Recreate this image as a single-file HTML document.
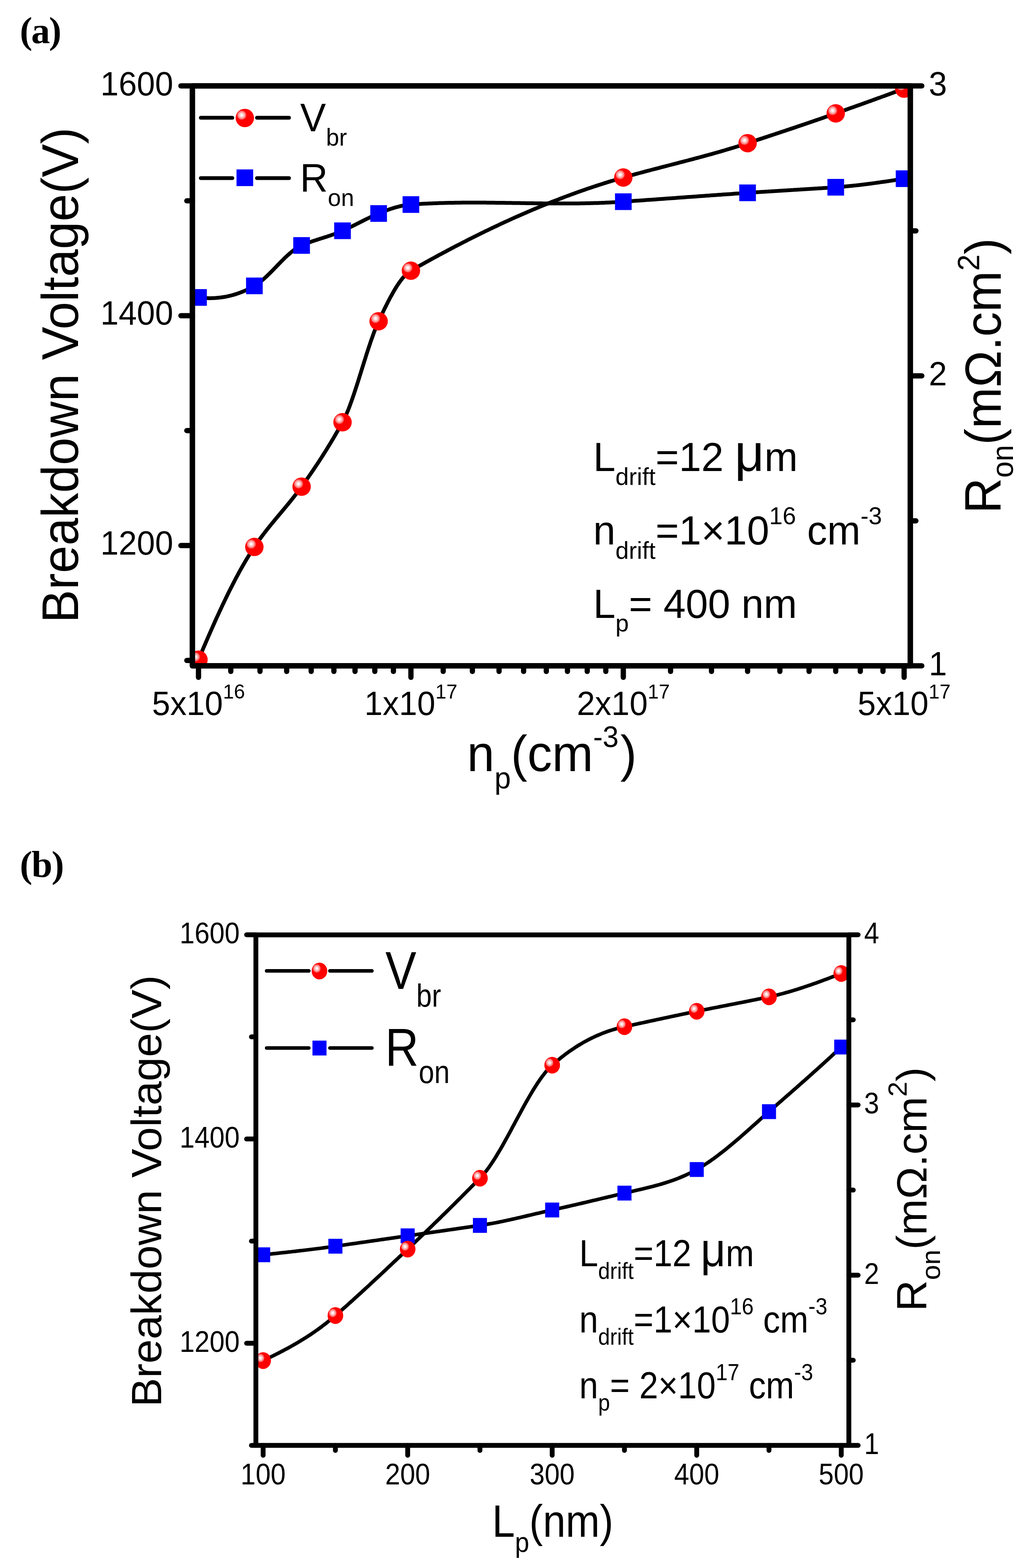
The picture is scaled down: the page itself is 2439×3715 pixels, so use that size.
<!DOCTYPE html>
<html><head><meta charset="utf-8"><title>Breakdown voltage and Ron</title>
<style>html,body{margin:0;padding:0;background:#fff;}svg{display:block;}text{font-family:"Liberation Sans",Arial,sans-serif;fill:#000;}.lbl{font-family:"Liberation Serif","Times New Roman",serif;font-weight:bold;}</style>
</head><body>
<svg width="2439" height="3715" viewBox="0 0 2439 3715">
<defs><radialGradient id="ball" cx="0.33" cy="0.345" r="0.3" fx="0.33" fy="0.345"><stop offset="0" stop-color="#ffffff"/><stop offset="0.14" stop-color="#fffafa"/><stop offset="0.32" stop-color="#ffd2d2"/><stop offset="0.55" stop-color="#ff9c9c"/><stop offset="0.72" stop-color="#ff6a6a"/><stop offset="0.82" stop-color="#ff2c2c"/><stop offset="0.9" stop-color="#ff0000"/><stop offset="1" stop-color="#ff0000"/></radialGradient><clipPath id="clipA"><rect x="456.0" y="203.5" width="1701.7" height="1374.1"/></clipPath><clipPath id="clipB"><rect x="606.5" y="2215.0" width="1405.5" height="1209.4"/></clipPath></defs>
<rect x="0" y="0" width="2439" height="3715" fill="#fff"/>
<g clip-path="url(#clipA)">
<g fill="none" stroke="#000" stroke-width="9.0" stroke-linejoin="round" stroke-linecap="round">
<path d="M470.5,1563.0 L473.8,1555.1 L477.1,1547.3 L480.4,1539.4 L483.7,1531.7 L487.1,1523.9 L490.4,1516.3 L493.7,1508.6 L497.0,1501.0 L500.3,1493.5 L503.6,1486.0 L506.9,1478.6 L510.2,1471.2 L513.5,1463.9 L516.9,1456.6 L520.2,1449.4 L523.5,1442.3 L526.8,1435.2 L530.1,1428.3 L533.4,1421.3 L536.7,1414.5 L540.0,1407.7 L543.3,1401.0 L546.6,1394.4 L550.0,1387.9 L553.3,1381.4 L556.6,1375.0 L559.9,1368.7 L563.2,1362.6 L566.5,1356.4 L569.8,1350.4 L573.1,1344.5 L576.4,1338.7 L579.8,1333.0 L583.1,1327.3 L586.4,1321.8 L589.7,1316.4 L593.0,1311.1 L596.3,1305.9 L599.6,1300.8 L602.9,1295.8 L605.7,1291.7 L608.5,1287.6 L611.3,1283.6 L614.1,1279.7 L616.9,1275.8 L619.7,1272.0 L622.5,1268.3 L625.3,1264.6 L628.1,1260.9 L630.9,1257.3 L633.7,1253.8 L636.5,1250.3 L639.3,1246.8 L642.1,1243.3 L644.9,1239.9 L647.7,1236.5 L650.5,1233.1 L653.3,1229.7 L656.1,1226.3 L658.9,1223.0 L661.7,1219.7 L664.5,1216.3 L667.3,1213.0 L670.1,1209.6 L672.9,1206.3 L675.7,1202.9 L678.5,1199.6 L681.3,1196.2 L684.1,1192.8 L686.9,1189.4 L689.7,1185.9 L692.5,1182.4 L695.3,1178.9 L698.1,1175.3 L700.9,1171.7 L703.7,1168.1 L706.5,1164.4 L709.3,1160.7 L712.1,1156.9 L714.9,1153.0 L717.3,1149.6 L719.7,1146.2 L722.2,1142.8 L724.6,1139.4 L727.0,1136.0 L729.4,1132.5 L731.9,1129.0 L734.3,1125.5 L736.7,1122.0 L739.1,1118.5 L741.6,1114.9 L744.0,1111.3 L746.4,1107.7 L748.8,1104.1 L751.3,1100.4 L753.7,1096.8 L756.1,1093.1 L758.5,1089.4 L761.0,1085.6 L763.4,1081.8 L765.8,1078.0 L768.2,1074.2 L770.7,1070.4 L773.1,1066.5 L775.5,1062.6 L777.9,1058.7 L780.4,1054.7 L782.8,1050.7 L785.2,1046.7 L787.6,1042.6 L790.1,1038.6 L792.5,1034.5 L794.9,1030.3 L797.3,1026.1 L799.8,1021.9 L802.2,1017.7 L804.6,1013.4 L807.0,1009.1 L809.5,1004.8 L811.9,1000.4 L814.0,996.4 L816.2,992.1 L818.3,987.6 L820.4,982.8 L822.6,977.8 L824.7,972.6 L826.9,967.2 L829.0,961.6 L831.1,955.8 L833.3,949.9 L835.4,943.8 L837.6,937.6 L839.7,931.2 L841.8,924.8 L844.0,918.2 L846.1,911.6 L848.3,904.9 L850.4,898.1 L852.5,891.3 L854.7,884.5 L856.8,877.6 L858.9,870.8 L861.1,863.9 L863.2,857.1 L865.4,850.3 L867.5,843.5 L869.6,836.8 L871.8,830.2 L873.9,823.7 L876.1,817.3 L878.2,810.9 L880.3,804.7 L882.5,798.7 L884.6,792.8 L886.7,787.0 L888.9,781.4 L891.0,776.1 L893.2,770.9 L895.3,765.9 L897.4,761.2 L899.4,757.1 L901.3,753.0 L903.2,748.9 L905.1,744.9 L907.0,740.8 L908.9,736.9 L910.8,732.9 L912.7,729.0 L914.7,725.1 L916.6,721.3 L918.5,717.5 L920.4,713.8 L922.3,710.1 L924.2,706.5 L926.1,702.9 L928.1,699.4 L930.0,696.0 L931.9,692.6 L933.8,689.3 L935.7,686.1 L937.6,682.9 L939.5,679.8 L941.4,676.8 L943.4,673.9 L945.3,671.1 L947.2,668.4 L949.1,665.8 L951.0,663.2 L952.9,660.8 L954.8,658.4 L956.8,656.2 L958.7,654.1 L960.6,652.1 L962.5,650.2 L964.4,648.4 L966.3,646.7 L968.2,645.2 L970.1,643.7 L972.1,642.5 L974.0,641.3 L978.0,639.0 L982.0,636.7 L986.1,634.4 L990.1,632.2 L994.1,629.9 L998.1,627.7 L1002.2,625.4 L1006.2,623.2 L1010.2,620.9 L1014.3,618.7 L1018.3,616.5 L1022.3,614.3 L1026.3,612.1 L1030.4,609.9 L1034.4,607.7 L1038.4,605.5 L1042.4,603.3 L1046.5,601.2 L1050.5,599.0 L1054.5,596.9 L1058.6,594.7 L1062.6,592.6 L1066.6,590.5 L1070.6,588.3 L1074.7,586.2 L1078.7,584.1 L1082.7,582.0 L1086.8,579.9 L1090.8,577.9 L1094.8,575.8 L1098.8,573.7 L1102.9,571.7 L1106.9,569.6 L1110.9,567.6 L1114.9,565.5 L1119.0,563.5 L1123.0,561.5 L1127.0,559.5 L1131.1,557.5 L1135.1,555.5 L1139.1,553.5 L1143.1,551.5 L1147.2,549.6 L1151.2,547.6 L1155.2,545.7 L1159.3,543.7 L1163.3,541.8 L1167.3,539.9 L1171.3,538.0 L1175.4,536.1 L1179.4,534.2 L1183.4,532.3 L1187.4,530.4 L1191.5,528.5 L1195.5,526.7 L1199.5,524.8 L1203.6,523.0 L1207.6,521.2 L1211.6,519.3 L1215.6,517.5 L1219.7,515.7 L1223.7,513.9 L1227.7,512.1 L1231.8,510.3 L1235.8,508.6 L1239.8,506.8 L1243.8,505.1 L1247.9,503.3 L1251.9,501.6 L1255.9,499.9 L1259.9,498.2 L1264.0,496.4 L1268.0,494.8 L1272.0,493.1 L1276.1,491.4 L1280.1,489.7 L1284.1,488.1 L1288.1,486.4 L1292.2,484.8 L1296.2,483.2 L1300.2,481.5 L1304.3,479.9 L1308.3,478.3 L1312.3,476.8 L1316.3,475.2 L1320.4,473.6 L1324.4,472.1 L1328.4,470.5 L1332.4,469.0 L1336.5,467.4 L1340.5,465.9 L1344.5,464.4 L1348.6,462.9 L1352.6,461.4 L1356.6,460.0 L1360.6,458.5 L1364.7,457.0 L1368.7,455.6 L1372.7,454.1 L1376.8,452.7 L1380.8,451.3 L1384.8,449.9 L1388.8,448.5 L1392.9,447.1 L1396.9,445.8 L1400.9,444.4 L1404.9,443.0 L1409.0,441.7 L1413.0,440.4 L1417.0,439.1 L1421.1,437.8 L1425.1,436.5 L1429.1,435.2 L1433.1,433.9 L1437.2,432.6 L1441.2,431.4 L1445.2,430.1 L1449.3,428.9 L1453.3,427.7 L1457.3,426.5 L1461.3,425.3 L1465.4,424.1 L1469.4,422.9 L1473.4,421.8 L1477.4,420.6 L1481.5,419.5 L1485.5,418.3 L1489.5,417.2 L1493.6,416.1 L1497.6,414.9 L1501.7,413.8 L1505.7,412.7 L1509.7,411.6 L1513.8,410.5 L1517.8,409.5 L1521.8,408.4 L1525.9,407.3 L1529.9,406.2 L1533.9,405.1 L1538.0,404.1 L1542.0,403.0 L1546.0,402.0 L1550.1,400.9 L1554.1,399.9 L1558.1,398.8 L1562.2,397.8 L1566.2,396.7 L1570.2,395.7 L1574.3,394.6 L1578.3,393.6 L1582.3,392.5 L1586.4,391.5 L1590.4,390.5 L1594.4,389.4 L1598.5,388.4 L1602.5,387.3 L1606.5,386.3 L1610.6,385.2 L1614.6,384.2 L1618.7,383.1 L1622.7,382.1 L1626.7,381.0 L1630.8,380.0 L1634.8,378.9 L1638.8,377.9 L1642.9,376.8 L1646.9,375.7 L1650.9,374.7 L1655.0,373.6 L1659.0,372.5 L1663.0,371.4 L1667.1,370.3 L1671.1,369.2 L1675.1,368.1 L1679.2,367.0 L1683.2,365.9 L1687.2,364.8 L1691.3,363.6 L1695.3,362.5 L1699.3,361.4 L1703.4,360.2 L1707.4,359.1 L1711.4,357.9 L1715.5,356.7 L1719.5,355.5 L1723.5,354.3 L1727.6,353.1 L1731.6,351.9 L1735.6,350.7 L1739.7,349.5 L1743.7,348.2 L1747.8,347.0 L1751.8,345.7 L1755.8,344.4 L1759.9,343.1 L1763.9,341.8 L1767.9,340.5 L1772.0,339.2 L1776.0,337.9 L1780.0,336.5 L1784.0,335.2 L1788.0,333.9 L1792.1,332.6 L1796.1,331.2 L1800.1,329.9 L1804.1,328.6 L1808.1,327.3 L1812.1,325.9 L1816.2,324.6 L1820.2,323.3 L1824.2,321.9 L1828.2,320.6 L1832.2,319.3 L1836.3,318.0 L1840.3,316.6 L1844.3,315.3 L1848.3,313.9 L1852.3,312.6 L1856.3,311.3 L1860.4,309.9 L1864.4,308.6 L1868.4,307.2 L1872.4,305.9 L1876.4,304.6 L1880.5,303.2 L1884.5,301.9 L1888.5,300.5 L1892.5,299.1 L1896.5,297.8 L1900.5,296.4 L1904.6,295.1 L1908.6,293.7 L1912.6,292.3 L1916.6,291.0 L1920.6,289.6 L1924.7,288.2 L1928.7,286.8 L1932.7,285.4 L1936.7,284.1 L1940.7,282.7 L1944.8,281.3 L1948.8,279.9 L1952.8,278.5 L1956.8,277.1 L1960.8,275.7 L1964.8,274.3 L1968.9,272.9 L1972.9,271.4 L1976.9,270.0 L1980.9,268.6 L1985.0,267.2 L1989.0,265.7 L1993.1,264.3 L1997.1,262.8 L2001.2,261.4 L2005.2,260.0 L2009.3,258.5 L2013.3,257.1 L2017.4,255.6 L2021.4,254.2 L2025.5,252.7 L2029.5,251.3 L2033.6,249.8 L2037.6,248.4 L2041.7,247.0 L2045.8,245.5 L2049.8,244.0 L2053.9,242.6 L2057.9,241.1 L2062.0,239.7 L2066.0,238.2 L2070.1,236.8 L2074.1,235.3 L2078.2,233.8 L2082.2,232.3 L2086.3,230.9 L2090.3,229.4 L2094.4,227.9 L2098.4,226.5 L2102.5,225.0 L2106.5,223.5 L2110.6,222.0 L2114.6,220.5 L2118.7,219.0 L2122.7,217.5 L2126.8,216.0 L2130.8,214.5 L2134.9,213.0 L2138.9,211.5 L2143.0,210.0"/>
<path d="M470.5,704.8 L473.8,705.2 L477.1,705.5 L480.4,705.8 L483.7,706.0 L487.1,706.2 L490.4,706.3 L493.7,706.4 L497.0,706.4 L500.3,706.4 L503.6,706.3 L506.9,706.2 L510.2,706.0 L513.5,705.7 L516.9,705.4 L520.2,705.1 L523.5,704.7 L526.8,704.3 L530.1,703.7 L533.4,703.2 L536.7,702.6 L540.0,701.9 L543.3,701.1 L546.6,700.4 L550.0,699.5 L553.3,698.6 L556.6,697.6 L559.9,696.6 L563.2,695.5 L566.5,694.3 L569.8,693.1 L573.1,691.8 L576.4,690.5 L579.8,689.1 L583.1,687.6 L586.4,686.1 L589.7,684.5 L593.0,682.8 L596.3,681.1 L599.6,679.3 L602.9,677.4 L605.7,675.7 L608.5,673.9 L611.3,672.0 L614.1,669.9 L616.9,667.8 L619.7,665.5 L622.5,663.2 L625.3,660.8 L628.1,658.2 L630.9,655.7 L633.7,653.0 L636.5,650.3 L639.3,647.6 L642.1,644.8 L644.9,641.9 L647.7,639.1 L650.5,636.2 L653.3,633.3 L656.1,630.4 L658.9,627.5 L661.7,624.6 L664.5,621.8 L667.3,618.9 L670.1,616.1 L672.9,613.3 L675.7,610.6 L678.5,608.0 L681.3,605.3 L684.1,602.8 L686.9,600.3 L689.7,598.0 L692.5,595.7 L695.3,593.5 L698.1,591.4 L700.9,589.4 L703.7,587.6 L706.5,585.8 L709.3,584.2 L712.1,582.8 L714.9,581.5 L717.3,580.5 L719.7,579.4 L722.2,578.5 L724.6,577.5 L727.0,576.5 L729.4,575.6 L731.9,574.7 L734.3,573.9 L736.7,573.0 L739.1,572.1 L741.6,571.3 L744.0,570.5 L746.4,569.7 L748.8,568.9 L751.3,568.1 L753.7,567.3 L756.1,566.6 L758.5,565.8 L761.0,565.0 L763.4,564.2 L765.8,563.5 L768.2,562.7 L770.7,561.9 L773.1,561.2 L775.5,560.4 L777.9,559.6 L780.4,558.8 L782.8,558.0 L785.2,557.1 L787.6,556.3 L790.1,555.4 L792.5,554.6 L794.9,553.7 L797.3,552.8 L799.8,551.8 L802.2,550.9 L804.6,549.9 L807.0,548.9 L809.5,547.9 L811.9,546.8 L814.0,545.8 L816.2,544.9 L818.3,543.9 L820.4,542.9 L822.6,541.9 L824.7,540.9 L826.9,539.8 L829.0,538.8 L831.1,537.8 L833.3,536.7 L835.4,535.7 L837.6,534.6 L839.7,533.5 L841.8,532.5 L844.0,531.4 L846.1,530.3 L848.3,529.2 L850.4,528.2 L852.5,527.1 L854.7,526.0 L856.8,524.9 L858.9,523.8 L861.1,522.8 L863.2,521.7 L865.4,520.6 L867.5,519.6 L869.6,518.5 L871.8,517.5 L873.9,516.5 L876.1,515.4 L878.2,514.4 L880.3,513.4 L882.5,512.4 L884.6,511.4 L886.7,510.4 L888.9,509.5 L891.0,508.5 L893.2,507.6 L895.3,506.7 L897.4,505.8 L899.4,505.0 L901.3,504.2 L903.2,503.4 L905.1,502.7 L907.0,501.9 L908.9,501.2 L910.8,500.4 L912.7,499.7 L914.7,499.0 L916.6,498.3 L918.5,497.6 L920.4,496.9 L922.3,496.2 L924.2,495.6 L926.1,494.9 L928.1,494.3 L930.0,493.7 L931.9,493.1 L933.8,492.5 L935.7,491.9 L937.6,491.4 L939.5,490.8 L941.4,490.3 L943.4,489.8 L945.3,489.3 L947.2,488.9 L949.1,488.4 L951.0,488.0 L952.9,487.6 L954.8,487.2 L956.8,486.8 L958.7,486.5 L960.6,486.2 L962.5,485.9 L964.4,485.6 L966.3,485.4 L968.2,485.1 L970.1,484.9 L972.1,484.8 L974.0,484.6 L978.0,484.3 L982.0,484.0 L986.1,483.8 L990.1,483.5 L994.1,483.3 L998.1,483.1 L1002.2,482.8 L1006.2,482.6 L1010.2,482.4 L1014.3,482.2 L1018.3,482.1 L1022.3,481.9 L1026.3,481.7 L1030.4,481.6 L1034.4,481.4 L1038.4,481.3 L1042.4,481.1 L1046.5,481.0 L1050.5,480.9 L1054.5,480.8 L1058.6,480.7 L1062.6,480.6 L1066.6,480.5 L1070.6,480.5 L1074.7,480.4 L1078.7,480.3 L1082.7,480.3 L1086.8,480.2 L1090.8,480.2 L1094.8,480.1 L1098.8,480.1 L1102.9,480.1 L1106.9,480.1 L1110.9,480.0 L1114.9,480.0 L1119.0,480.0 L1123.0,480.0 L1127.0,480.0 L1131.1,480.0 L1135.1,480.0 L1139.1,480.1 L1143.1,480.1 L1147.2,480.1 L1151.2,480.1 L1155.2,480.2 L1159.3,480.2 L1163.3,480.2 L1167.3,480.3 L1171.3,480.3 L1175.4,480.4 L1179.4,480.4 L1183.4,480.5 L1187.4,480.5 L1191.5,480.6 L1195.5,480.6 L1199.5,480.7 L1203.6,480.7 L1207.6,480.8 L1211.6,480.8 L1215.6,480.9 L1219.7,481.0 L1223.7,481.0 L1227.7,481.1 L1231.8,481.1 L1235.8,481.2 L1239.8,481.3 L1243.8,481.3 L1247.9,481.4 L1251.9,481.4 L1255.9,481.5 L1259.9,481.5 L1264.0,481.6 L1268.0,481.7 L1272.0,481.7 L1276.1,481.8 L1280.1,481.8 L1284.1,481.8 L1288.1,481.9 L1292.2,481.9 L1296.2,482.0 L1300.2,482.0 L1304.3,482.0 L1308.3,482.1 L1312.3,482.1 L1316.3,482.1 L1320.4,482.1 L1324.4,482.1 L1328.4,482.1 L1332.4,482.1 L1336.5,482.1 L1340.5,482.1 L1344.5,482.1 L1348.6,482.1 L1352.6,482.1 L1356.6,482.0 L1360.6,482.0 L1364.7,482.0 L1368.7,481.9 L1372.7,481.9 L1376.8,481.8 L1380.8,481.8 L1384.8,481.7 L1388.8,481.6 L1392.9,481.5 L1396.9,481.4 L1400.9,481.3 L1404.9,481.2 L1409.0,481.1 L1413.0,481.0 L1417.0,480.9 L1421.1,480.7 L1425.1,480.6 L1429.1,480.4 L1433.1,480.3 L1437.2,480.1 L1441.2,479.9 L1445.2,479.7 L1449.3,479.5 L1453.3,479.3 L1457.3,479.1 L1461.3,478.8 L1465.4,478.6 L1469.4,478.3 L1473.4,478.1 L1477.4,477.8 L1481.5,477.5 L1485.5,477.2 L1489.5,477.0 L1493.6,476.7 L1497.6,476.4 L1501.7,476.1 L1505.7,475.8 L1509.7,475.5 L1513.8,475.3 L1517.8,475.0 L1521.8,474.7 L1525.9,474.4 L1529.9,474.1 L1533.9,473.8 L1538.0,473.5 L1542.0,473.2 L1546.0,473.0 L1550.1,472.7 L1554.1,472.4 L1558.1,472.1 L1562.2,471.8 L1566.2,471.5 L1570.2,471.2 L1574.3,470.9 L1578.3,470.6 L1582.3,470.3 L1586.4,470.0 L1590.4,469.8 L1594.4,469.5 L1598.5,469.2 L1602.5,468.9 L1606.5,468.6 L1610.6,468.3 L1614.6,468.0 L1618.7,467.7 L1622.7,467.4 L1626.7,467.1 L1630.8,466.8 L1634.8,466.5 L1638.8,466.3 L1642.9,466.0 L1646.9,465.7 L1650.9,465.4 L1655.0,465.1 L1659.0,464.8 L1663.0,464.5 L1667.1,464.2 L1671.1,463.9 L1675.1,463.6 L1679.2,463.4 L1683.2,463.1 L1687.2,462.8 L1691.3,462.5 L1695.3,462.2 L1699.3,461.9 L1703.4,461.6 L1707.4,461.4 L1711.4,461.1 L1715.5,460.8 L1719.5,460.5 L1723.5,460.2 L1727.6,459.9 L1731.6,459.7 L1735.6,459.4 L1739.7,459.1 L1743.7,458.8 L1747.8,458.5 L1751.8,458.3 L1755.8,458.0 L1759.9,457.7 L1763.9,457.4 L1767.9,457.2 L1772.0,456.9 L1776.0,456.6 L1780.0,456.4 L1784.0,456.1 L1788.0,455.8 L1792.1,455.6 L1796.1,455.3 L1800.1,455.1 L1804.1,454.8 L1808.1,454.5 L1812.1,454.3 L1816.2,454.0 L1820.2,453.8 L1824.2,453.5 L1828.2,453.3 L1832.2,453.0 L1836.3,452.8 L1840.3,452.5 L1844.3,452.3 L1848.3,452.0 L1852.3,451.8 L1856.3,451.5 L1860.4,451.3 L1864.4,451.1 L1868.4,450.8 L1872.4,450.6 L1876.4,450.3 L1880.5,450.1 L1884.5,449.8 L1888.5,449.6 L1892.5,449.3 L1896.5,449.1 L1900.5,448.8 L1904.6,448.6 L1908.6,448.3 L1912.6,448.1 L1916.6,447.8 L1920.6,447.6 L1924.7,447.3 L1928.7,447.1 L1932.7,446.8 L1936.7,446.6 L1940.7,446.3 L1944.8,446.0 L1948.8,445.8 L1952.8,445.5 L1956.8,445.2 L1960.8,445.0 L1964.8,444.7 L1968.9,444.4 L1972.9,444.2 L1976.9,443.9 L1980.9,443.6 L1985.0,443.3 L1989.0,443.0 L1993.1,442.7 L1997.1,442.3 L2001.2,442.0 L2005.2,441.6 L2009.3,441.2 L2013.3,440.8 L2017.4,440.4 L2021.4,440.0 L2025.5,439.6 L2029.5,439.1 L2033.6,438.7 L2037.6,438.2 L2041.7,437.8 L2045.8,437.3 L2049.8,436.8 L2053.9,436.3 L2057.9,435.7 L2062.0,435.2 L2066.0,434.7 L2070.1,434.1 L2074.1,433.6 L2078.2,433.0 L2082.2,432.5 L2086.3,431.9 L2090.3,431.3 L2094.4,430.7 L2098.4,430.2 L2102.5,429.6 L2106.5,429.0 L2110.6,428.4 L2114.6,427.7 L2118.7,427.1 L2122.7,426.5 L2126.8,425.9 L2130.8,425.3 L2134.9,424.7 L2138.9,424.0 L2143.0,423.4"/>
</g>
<rect x="450.8" y="685.0" width="39.5" height="39.5" fill="#0000ff"/>
<rect x="583.2" y="657.6" width="39.5" height="39.5" fill="#0000ff"/>
<rect x="695.1" y="561.8" width="39.5" height="39.5" fill="#0000ff"/>
<rect x="792.1" y="527.0" width="39.5" height="39.5" fill="#0000ff"/>
<rect x="877.7" y="486.1" width="39.5" height="39.5" fill="#0000ff"/>
<rect x="954.2" y="464.9" width="39.5" height="39.5" fill="#0000ff"/>
<rect x="1457.7" y="458.1" width="39.5" height="39.5" fill="#0000ff"/>
<rect x="1752.2" y="437.1" width="39.5" height="39.5" fill="#0000ff"/>
<rect x="1961.2" y="423.9" width="39.5" height="39.5" fill="#0000ff"/>
<rect x="2123.2" y="403.6" width="39.5" height="39.5" fill="#0000ff"/>
<circle cx="470.5" cy="1563.0" r="21.8" fill="url(#ball)"/>
<circle cx="602.9" cy="1295.8" r="21.8" fill="url(#ball)"/>
<circle cx="714.9" cy="1153.0" r="21.8" fill="url(#ball)"/>
<circle cx="811.9" cy="1000.4" r="21.8" fill="url(#ball)"/>
<circle cx="897.4" cy="761.2" r="21.8" fill="url(#ball)"/>
<circle cx="974.0" cy="641.3" r="21.8" fill="url(#ball)"/>
<circle cx="1477.4" cy="420.6" r="21.8" fill="url(#ball)"/>
<circle cx="1772.0" cy="339.2" r="21.8" fill="url(#ball)"/>
<circle cx="1980.9" cy="268.6" r="21.8" fill="url(#ball)"/>
<circle cx="2143.0" cy="210.0" r="21.8" fill="url(#ball)"/>
</g>
<g stroke="#000" stroke-width="9.0" stroke-linecap="round">
<line x1="476.0" y1="279.0" x2="550.7" y2="279.0"/>
<line x1="609.1" y1="279.0" x2="685.1" y2="279.0"/>
<line x1="476.0" y1="422.0" x2="550.7" y2="422.0"/>
<line x1="609.1" y1="422.0" x2="685.1" y2="422.0"/>
</g>
<circle cx="580.3" cy="279.5" r="21.8" fill="url(#ball)"/>
<rect x="560.6" y="401.4" width="39.5" height="39.5" fill="#0000ff"/>
<g stroke="#000" fill="none">
<rect x="456.0" y="203.5" width="1701.7" height="1374.1" stroke-width="13.0" stroke-linejoin="round"/>
</g>
<g stroke="#000" stroke-width="12.5" stroke-linecap="round">
<line x1="456.0" y1="203.5" x2="428.8" y2="203.5"/>
<line x1="456.0" y1="748.0" x2="428.8" y2="748.0"/>
<line x1="456.0" y1="1292.5" x2="428.8" y2="1292.5"/>
<line x1="456.0" y1="475.8" x2="442.8" y2="475.8"/>
<line x1="456.0" y1="1020.2" x2="442.8" y2="1020.2"/>
<line x1="456.0" y1="1564.8" x2="442.8" y2="1564.8"/>
<line x1="2157.7" y1="203.5" x2="2184.9" y2="203.5"/>
<line x1="2157.7" y1="890.5" x2="2184.9" y2="890.5"/>
<line x1="2157.7" y1="1577.6" x2="2184.9" y2="1577.6"/>
<line x1="2157.7" y1="547.0" x2="2170.9" y2="547.0"/>
<line x1="2157.7" y1="1234.1" x2="2170.9" y2="1234.1"/>
<line x1="470.5" y1="1577.6" x2="470.5" y2="1604.8"/>
<line x1="974.0" y1="1577.6" x2="974.0" y2="1604.8"/>
<line x1="1477.4" y1="1577.6" x2="1477.4" y2="1604.8"/>
<line x1="2143.0" y1="1577.6" x2="2143.0" y2="1604.8"/>
<line x1="547.0" y1="1577.6" x2="547.0" y2="1590.8"/>
<line x1="616.3" y1="1577.6" x2="616.3" y2="1590.8"/>
<line x1="679.5" y1="1577.6" x2="679.5" y2="1590.8"/>
<line x1="737.6" y1="1577.6" x2="737.6" y2="1590.8"/>
<line x1="791.4" y1="1577.6" x2="791.4" y2="1590.8"/>
<line x1="841.5" y1="1577.6" x2="841.5" y2="1590.8"/>
<line x1="888.4" y1="1577.6" x2="888.4" y2="1590.8"/>
<line x1="932.5" y1="1577.6" x2="932.5" y2="1590.8"/>
<line x1="1050.5" y1="1577.6" x2="1050.5" y2="1590.8"/>
<line x1="1119.7" y1="1577.6" x2="1119.7" y2="1590.8"/>
<line x1="1182.9" y1="1577.6" x2="1182.9" y2="1590.8"/>
<line x1="1241.1" y1="1577.6" x2="1241.1" y2="1590.8"/>
<line x1="1294.9" y1="1577.6" x2="1294.9" y2="1590.8"/>
<line x1="1345.0" y1="1577.6" x2="1345.0" y2="1590.8"/>
<line x1="1391.9" y1="1577.6" x2="1391.9" y2="1590.8"/>
<line x1="1435.9" y1="1577.6" x2="1435.9" y2="1590.8"/>
<line x1="1589.4" y1="1577.6" x2="1589.4" y2="1590.8"/>
<line x1="1686.4" y1="1577.6" x2="1686.4" y2="1590.8"/>
<line x1="1772.0" y1="1577.6" x2="1772.0" y2="1590.8"/>
<line x1="1848.5" y1="1577.6" x2="1848.5" y2="1590.8"/>
<line x1="1917.7" y1="1577.6" x2="1917.7" y2="1590.8"/>
<line x1="1980.9" y1="1577.6" x2="1980.9" y2="1590.8"/>
<line x1="2039.1" y1="1577.6" x2="2039.1" y2="1590.8"/>
<line x1="2092.9" y1="1577.6" x2="2092.9" y2="1590.8"/>
</g>
<text transform="translate(410.5,226.3) scale(1.0000,1.0350)" font-size="77.5" text-anchor="end">1600</text>
<text transform="translate(410.5,769.3) scale(1.0000,1.0350)" font-size="77.5" text-anchor="end">1400</text>
<text transform="translate(410.5,1313.8) scale(1.0000,1.0350)" font-size="77.5" text-anchor="end">1200</text>
<text transform="translate(2201.5,226.3) scale(1.0000,1.0350)" font-size="77.5">3</text>
<text transform="translate(2201.5,913.3) scale(1.0000,1.0350)" font-size="77.5">2</text>
<text transform="translate(2201.5,1600.4) scale(1.0000,1.0350)" font-size="77.5">1</text>
<text transform="translate(470.5,1694.0) scale(1.0000,1.0350)" font-size="77.5" text-anchor="middle">5x10<tspan font-size="47.0" dy="-38.0">16</tspan></text>
<text transform="translate(974.0,1694.0) scale(1.0000,1.0350)" font-size="77.5" text-anchor="middle">1x10<tspan font-size="47.0" dy="-38.0">17</tspan></text>
<text transform="translate(1477.4,1694.0) scale(1.0000,1.0350)" font-size="77.5" text-anchor="middle">2x10<tspan font-size="47.0" dy="-38.0">17</tspan></text>
<text transform="translate(2143.0,1694.0) scale(1.0000,1.0350)" font-size="77.5" text-anchor="middle">5x10<tspan font-size="47.0" dy="-38.0">17</tspan></text>
<text transform="translate(184.5,1476.0) rotate(-90) scale(1.0000,1.0350)" font-size="118.0">Breakdown Voltage(V)</text>
<text transform="translate(1107.0,1826.5) scale(1.0000,1.0350)" font-size="117.0">n<tspan font-size="70.0" dy="40.0">p</tspan><tspan dy="-40">(cm</tspan><tspan font-size="68.0" dy="-55.0">-3</tspan><tspan dy="55" dx="4">)</tspan></text>
<text transform="translate(2372.4,1216.5) rotate(-90) scale(1.0000,1.0350)" font-size="117.0">R<tspan font-size="70.0" dy="28.0">on</tspan><tspan dy="-28">(m&#937;.cm</tspan><tspan font-size="70.0" dy="-50.0">2</tspan><tspan dy="50">)</tspan></text>
<text transform="translate(711.6,310.9) scale(1.0000,1.0350)" font-size="91.5">V<tspan font-size="56.0" dy="33.0">br</tspan></text>
<text transform="translate(711.0,454.2) scale(1.0000,1.0350)" font-size="91.5">R<tspan font-size="56.0" dy="33.0">on</tspan></text>
<text transform="translate(1406.0,1115.7) scale(1.0000,1.0200)" font-size="95.0">L<tspan font-size="57.0" dy="32.7">drift</tspan><tspan dy="-32.7">=12 </tspan><tspan font-size="122">&#956;</tspan>m</text>
<text transform="translate(1406.0,1290.2) scale(1.0000,1.0200)" font-size="95.0">n<tspan font-size="57.0" dy="32.7">drift</tspan><tspan dy="-32.7">=1&#215;10</tspan><tspan font-size="57.0" dy="-47.5">16</tspan><tspan dy="47.5"> cm</tspan><tspan font-size="57.0" dy="-47.5">-3</tspan></text>
<text transform="translate(1406.0,1463.8) scale(1.0000,1.0200)" font-size="95.0">L<tspan font-size="57.0" dy="32.0">p</tspan><tspan dy="-32.0">= 400 nm</tspan></text>
<text class="lbl" x="47" y="101.5" font-size="89" letter-spacing="-2.6">(a)</text>
<g clip-path="url(#clipB)">
<g fill="none" stroke="#000" stroke-width="8.5" stroke-linejoin="round" stroke-linecap="round">
<path d="M623.7,3223.6 L627.8,3221.7 L631.9,3219.7 L635.9,3217.7 L640.0,3215.8 L644.1,3213.8 L648.2,3211.8 L652.2,3209.7 L656.3,3207.7 L660.4,3205.6 L664.5,3203.5 L668.6,3201.4 L672.6,3199.3 L676.7,3197.1 L680.8,3194.9 L684.9,3192.7 L689.0,3190.4 L693.0,3188.1 L697.1,3185.8 L701.2,3183.5 L705.3,3181.1 L709.3,3178.7 L713.4,3176.2 L717.5,3173.7 L721.6,3171.2 L725.7,3168.6 L729.7,3165.9 L733.8,3163.3 L737.9,3160.6 L742.0,3157.8 L746.0,3155.0 L750.1,3152.1 L754.2,3149.2 L758.3,3146.2 L762.4,3143.2 L766.4,3140.1 L770.5,3137.0 L774.6,3133.8 L778.7,3130.5 L782.8,3127.2 L786.8,3123.8 L790.9,3120.4 L795.0,3116.9 L799.1,3113.4 L803.1,3109.8 L807.2,3106.2 L811.3,3102.6 L815.4,3099.0 L819.5,3095.4 L823.5,3091.8 L827.6,3088.1 L831.7,3084.5 L835.8,3080.8 L839.8,3077.1 L843.9,3073.4 L848.0,3069.7 L852.1,3066.0 L856.2,3062.3 L860.2,3058.5 L864.3,3054.8 L868.4,3051.0 L872.5,3047.3 L876.6,3043.5 L880.6,3039.7 L884.7,3036.0 L888.8,3032.2 L892.9,3028.4 L896.9,3024.6 L901.0,3020.8 L905.1,3017.0 L909.2,3013.1 L913.3,3009.3 L917.3,3005.5 L921.4,3001.7 L925.5,2997.8 L929.6,2994.0 L933.6,2990.2 L937.7,2986.3 L941.8,2982.5 L945.9,2978.7 L950.0,2974.8 L954.0,2971.0 L958.1,2967.2 L962.2,2963.3 L966.3,2959.5 L970.4,2955.7 L974.4,2951.8 L978.5,2948.0 L982.6,2944.1 L986.7,2940.2 L990.7,2936.3 L994.8,2932.4 L998.9,2928.5 L1003.0,2924.6 L1007.1,2920.7 L1011.1,2916.8 L1015.2,2912.9 L1019.3,2908.9 L1023.4,2905.0 L1027.4,2901.0 L1031.5,2897.0 L1035.6,2893.1 L1039.7,2889.1 L1043.8,2885.1 L1047.8,2881.1 L1051.9,2877.1 L1056.0,2873.1 L1060.1,2869.1 L1064.2,2865.0 L1068.2,2861.0 L1072.3,2857.0 L1076.4,2852.9 L1080.5,2848.9 L1084.5,2844.8 L1088.6,2840.7 L1092.7,2836.7 L1096.8,2832.6 L1100.9,2828.5 L1104.9,2824.4 L1109.0,2820.3 L1113.1,2816.2 L1117.2,2812.1 L1121.2,2808.0 L1125.3,2803.9 L1129.4,2799.8 L1133.5,2795.6 L1137.6,2791.5 L1141.6,2787.2 L1145.7,2782.6 L1149.8,2777.6 L1153.9,2772.4 L1158.0,2766.9 L1162.0,2761.1 L1166.1,2755.1 L1170.2,2748.9 L1174.3,2742.5 L1178.3,2735.8 L1182.4,2729.0 L1186.5,2722.1 L1190.6,2715.0 L1194.7,2707.7 L1198.7,2700.4 L1202.8,2693.0 L1206.9,2685.5 L1211.0,2677.9 L1215.0,2670.3 L1219.1,2662.7 L1223.2,2655.1 L1227.3,2647.5 L1231.4,2639.9 L1235.4,2632.4 L1239.5,2624.9 L1243.6,2617.5 L1247.7,2610.2 L1251.8,2603.0 L1255.8,2596.0 L1259.9,2589.1 L1264.0,2582.3 L1268.1,2575.8 L1272.1,2569.4 L1276.2,2563.2 L1280.3,2557.3 L1284.4,2551.6 L1288.5,2546.2 L1292.5,2541.1 L1296.6,2536.2 L1300.7,2531.7 L1304.8,2527.5 L1308.8,2523.7 L1312.9,2520.1 L1317.0,2516.5 L1321.1,2513.1 L1325.2,2509.7 L1329.2,2506.4 L1333.3,2503.2 L1337.4,2500.0 L1341.5,2496.9 L1345.6,2493.9 L1349.6,2491.0 L1353.7,2488.2 L1357.8,2485.4 L1361.9,2482.7 L1365.9,2480.0 L1370.0,2477.5 L1374.1,2475.0 L1378.2,2472.6 L1382.3,2470.2 L1386.3,2467.9 L1390.4,2465.7 L1394.5,2463.5 L1398.6,2461.4 L1402.7,2459.4 L1406.7,2457.5 L1410.8,2455.6 L1414.9,2453.7 L1419.0,2452.0 L1423.0,2450.3 L1427.1,2448.6 L1431.2,2447.0 L1435.3,2445.5 L1439.4,2444.1 L1443.4,2442.6 L1447.5,2441.3 L1451.6,2440.0 L1455.7,2438.8 L1459.7,2437.6 L1463.8,2436.5 L1467.9,2435.4 L1472.0,2434.4 L1476.1,2433.4 L1480.1,2432.5 L1484.2,2431.6 L1488.3,2430.7 L1492.4,2429.8 L1496.5,2429.0 L1500.5,2428.1 L1504.6,2427.2 L1508.7,2426.3 L1512.8,2425.4 L1516.8,2424.5 L1520.9,2423.6 L1525.0,2422.8 L1529.1,2421.9 L1533.2,2421.0 L1537.2,2420.1 L1541.3,2419.2 L1545.4,2418.3 L1549.5,2417.5 L1553.5,2416.6 L1557.6,2415.7 L1561.7,2414.8 L1565.8,2414.0 L1569.9,2413.1 L1573.9,2412.2 L1578.0,2411.3 L1582.1,2410.5 L1586.2,2409.6 L1590.3,2408.7 L1594.3,2407.9 L1598.4,2407.0 L1602.5,2406.1 L1606.6,2405.3 L1610.6,2404.4 L1614.7,2403.6 L1618.8,2402.7 L1622.9,2401.9 L1627.0,2401.0 L1631.0,2400.2 L1635.1,2399.3 L1639.2,2398.5 L1643.3,2397.7 L1647.3,2396.8 L1651.4,2396.0 L1655.5,2395.2 L1659.6,2394.3 L1663.7,2393.5 L1667.7,2392.7 L1671.8,2391.9 L1675.9,2391.1 L1680.0,2390.3 L1684.1,2389.5 L1688.1,2388.7 L1692.2,2387.9 L1696.3,2387.1 L1700.4,2386.3 L1704.4,2385.5 L1708.5,2384.7 L1712.6,2383.9 L1716.7,2383.1 L1720.8,2382.3 L1724.8,2381.5 L1728.9,2380.7 L1733.0,2379.9 L1737.1,2379.1 L1741.1,2378.3 L1745.2,2377.5 L1749.3,2376.7 L1753.4,2375.9 L1757.5,2375.1 L1761.5,2374.3 L1765.6,2373.5 L1769.7,2372.6 L1773.8,2371.8 L1777.9,2371.0 L1781.9,2370.2 L1786.0,2369.4 L1790.1,2368.6 L1794.2,2367.7 L1798.2,2366.9 L1802.3,2366.1 L1806.4,2365.2 L1810.5,2364.4 L1814.6,2363.5 L1818.6,2362.7 L1822.7,2361.8 L1826.8,2360.9 L1830.9,2360.0 L1834.9,2359.1 L1839.0,2358.1 L1843.1,2357.1 L1847.2,2356.1 L1851.3,2355.0 L1855.3,2354.0 L1859.4,2352.8 L1863.5,2351.7 L1867.6,2350.6 L1871.7,2349.4 L1875.7,2348.2 L1879.8,2347.0 L1883.9,2345.7 L1888.0,2344.5 L1892.0,2343.2 L1896.1,2341.9 L1900.2,2340.5 L1904.3,2339.2 L1908.4,2337.8 L1912.4,2336.5 L1916.5,2335.1 L1920.6,2333.7 L1924.7,2332.3 L1928.7,2330.8 L1932.8,2329.4 L1936.9,2327.9 L1941.0,2326.4 L1945.1,2324.9 L1949.1,2323.5 L1953.2,2321.9 L1957.3,2320.4 L1961.4,2318.9 L1965.5,2317.4 L1969.5,2315.8 L1973.6,2314.3 L1977.7,2312.7 L1981.8,2311.2 L1985.8,2309.6 L1989.9,2308.1 L1994.0,2306.5"/>
<path d="M623.7,2972.9 L627.8,2972.5 L631.9,2972.0 L635.9,2971.6 L640.0,2971.2 L644.1,2970.7 L648.2,2970.3 L652.2,2969.9 L656.3,2969.4 L660.4,2969.0 L664.5,2968.5 L668.6,2968.1 L672.6,2967.7 L676.7,2967.2 L680.8,2966.8 L684.9,2966.3 L689.0,2965.9 L693.0,2965.4 L697.1,2964.9 L701.2,2964.5 L705.3,2964.0 L709.3,2963.5 L713.4,2963.1 L717.5,2962.6 L721.6,2962.1 L725.7,2961.6 L729.7,2961.1 L733.8,2960.6 L737.9,2960.1 L742.0,2959.6 L746.0,2959.1 L750.1,2958.6 L754.2,2958.1 L758.3,2957.6 L762.4,2957.1 L766.4,2956.5 L770.5,2956.0 L774.6,2955.4 L778.7,2954.9 L782.8,2954.3 L786.8,2953.8 L790.9,2953.2 L795.0,2952.6 L799.1,2952.0 L803.1,2951.4 L807.2,2950.8 L811.3,2950.3 L815.4,2949.7 L819.5,2949.1 L823.5,2948.5 L827.6,2947.9 L831.7,2947.3 L835.8,2946.8 L839.8,2946.2 L843.9,2945.6 L848.0,2945.0 L852.1,2944.4 L856.2,2943.8 L860.2,2943.2 L864.3,2942.7 L868.4,2942.1 L872.5,2941.5 L876.6,2940.9 L880.6,2940.3 L884.7,2939.7 L888.8,2939.1 L892.9,2938.6 L896.9,2938.0 L901.0,2937.4 L905.1,2936.8 L909.2,2936.2 L913.3,2935.6 L917.3,2935.0 L921.4,2934.5 L925.5,2933.9 L929.6,2933.3 L933.6,2932.7 L937.7,2932.1 L941.8,2931.5 L945.9,2930.9 L950.0,2930.3 L954.0,2929.8 L958.1,2929.2 L962.2,2928.6 L966.3,2928.0 L970.4,2927.4 L974.4,2926.8 L978.5,2926.2 L982.6,2925.7 L986.7,2925.1 L990.7,2924.5 L994.8,2923.9 L998.9,2923.3 L1003.0,2922.7 L1007.1,2922.1 L1011.1,2921.6 L1015.2,2921.0 L1019.3,2920.4 L1023.4,2919.8 L1027.4,2919.2 L1031.5,2918.6 L1035.6,2918.0 L1039.7,2917.5 L1043.8,2916.9 L1047.8,2916.3 L1051.9,2915.7 L1056.0,2915.1 L1060.1,2914.5 L1064.2,2913.9 L1068.2,2913.4 L1072.3,2912.8 L1076.4,2912.2 L1080.5,2911.6 L1084.5,2911.0 L1088.6,2910.4 L1092.7,2909.8 L1096.8,2909.2 L1100.9,2908.6 L1104.9,2908.0 L1109.0,2907.5 L1113.1,2906.9 L1117.2,2906.3 L1121.2,2905.7 L1125.3,2905.1 L1129.4,2904.5 L1133.5,2903.9 L1137.6,2903.3 L1141.6,2902.7 L1145.7,2902.1 L1149.8,2901.4 L1153.9,2900.7 L1158.0,2900.0 L1162.0,2899.3 L1166.1,2898.6 L1170.2,2897.8 L1174.3,2897.1 L1178.3,2896.3 L1182.4,2895.5 L1186.5,2894.6 L1190.6,2893.8 L1194.7,2892.9 L1198.7,2892.1 L1202.8,2891.2 L1206.9,2890.3 L1211.0,2889.4 L1215.0,2888.5 L1219.1,2887.6 L1223.2,2886.7 L1227.3,2885.7 L1231.4,2884.8 L1235.4,2883.9 L1239.5,2882.9 L1243.6,2882.0 L1247.7,2881.0 L1251.8,2880.0 L1255.8,2879.1 L1259.9,2878.1 L1264.0,2877.2 L1268.1,2876.2 L1272.1,2875.2 L1276.2,2874.3 L1280.3,2873.3 L1284.4,2872.4 L1288.5,2871.4 L1292.5,2870.5 L1296.6,2869.6 L1300.7,2868.6 L1304.8,2867.7 L1308.8,2866.8 L1312.9,2865.9 L1317.0,2865.0 L1321.1,2864.1 L1325.2,2863.2 L1329.2,2862.2 L1333.3,2861.3 L1337.4,2860.4 L1341.5,2859.5 L1345.6,2858.5 L1349.6,2857.6 L1353.7,2856.6 L1357.8,2855.7 L1361.9,2854.8 L1365.9,2853.8 L1370.0,2852.9 L1374.1,2851.9 L1378.2,2851.0 L1382.3,2850.0 L1386.3,2849.1 L1390.4,2848.1 L1394.5,2847.1 L1398.6,2846.2 L1402.7,2845.2 L1406.7,2844.2 L1410.8,2843.3 L1414.9,2842.3 L1419.0,2841.3 L1423.0,2840.4 L1427.1,2839.4 L1431.2,2838.4 L1435.3,2837.5 L1439.4,2836.5 L1443.4,2835.5 L1447.5,2834.6 L1451.6,2833.6 L1455.7,2832.6 L1459.7,2831.6 L1463.8,2830.7 L1467.9,2829.7 L1472.0,2828.7 L1476.1,2827.8 L1480.1,2826.8 L1484.2,2825.8 L1488.3,2824.9 L1492.4,2823.9 L1496.5,2823.0 L1500.5,2822.1 L1504.6,2821.1 L1508.7,2820.2 L1512.8,2819.2 L1516.8,2818.3 L1520.9,2817.3 L1525.0,2816.4 L1529.1,2815.4 L1533.2,2814.4 L1537.2,2813.4 L1541.3,2812.4 L1545.4,2811.4 L1549.5,2810.3 L1553.5,2809.2 L1557.6,2808.1 L1561.7,2807.0 L1565.8,2805.8 L1569.9,2804.6 L1573.9,2803.4 L1578.0,2802.1 L1582.1,2800.8 L1586.2,2799.5 L1590.3,2798.1 L1594.3,2796.7 L1598.4,2795.2 L1602.5,2793.7 L1606.6,2792.1 L1610.6,2790.5 L1614.7,2788.8 L1618.8,2787.0 L1622.9,2785.3 L1627.0,2783.4 L1631.0,2781.5 L1635.1,2779.5 L1639.2,2777.5 L1643.3,2775.3 L1647.3,2773.2 L1651.4,2770.9 L1655.5,2768.6 L1659.6,2766.2 L1663.7,2763.7 L1667.7,2761.1 L1671.8,2758.5 L1675.9,2755.8 L1680.0,2753.1 L1684.1,2750.3 L1688.1,2747.4 L1692.2,2744.5 L1696.3,2741.5 L1700.4,2738.4 L1704.4,2735.4 L1708.5,2732.2 L1712.6,2729.0 L1716.7,2725.8 L1720.8,2722.6 L1724.8,2719.2 L1728.9,2715.9 L1733.0,2712.5 L1737.1,2709.1 L1741.1,2705.7 L1745.2,2702.2 L1749.3,2698.7 L1753.4,2695.2 L1757.5,2691.6 L1761.5,2688.1 L1765.6,2684.5 L1769.7,2680.9 L1773.8,2677.3 L1777.9,2673.7 L1781.9,2670.0 L1786.0,2666.4 L1790.1,2662.8 L1794.2,2659.1 L1798.2,2655.5 L1802.3,2651.9 L1806.4,2648.2 L1810.5,2644.6 L1814.6,2641.0 L1818.6,2637.4 L1822.7,2633.8 L1826.8,2630.2 L1830.9,2626.6 L1834.9,2623.1 L1839.0,2619.5 L1843.1,2615.9 L1847.2,2612.3 L1851.3,2608.8 L1855.3,2605.2 L1859.4,2601.6 L1863.5,2598.1 L1867.6,2594.5 L1871.7,2590.9 L1875.7,2587.3 L1879.8,2583.7 L1883.9,2580.2 L1888.0,2576.6 L1892.0,2573.0 L1896.1,2569.4 L1900.2,2565.8 L1904.3,2562.2 L1908.4,2558.6 L1912.4,2555.0 L1916.5,2551.3 L1920.6,2547.7 L1924.7,2544.1 L1928.7,2540.4 L1932.8,2536.8 L1936.9,2533.1 L1941.0,2529.4 L1945.1,2525.8 L1949.1,2522.1 L1953.2,2518.4 L1957.3,2514.7 L1961.4,2510.9 L1965.5,2507.2 L1969.5,2503.5 L1973.6,2499.7 L1977.7,2495.9 L1981.8,2492.1 L1985.8,2488.3 L1989.9,2484.5 L1994.0,2480.7"/>
</g>
<rect x="607.1" y="2955.3" width="33.3" height="35.2" fill="#0000ff"/>
<rect x="778.3" y="2935.0" width="33.3" height="35.2" fill="#0000ff"/>
<rect x="949.6" y="2910.4" width="33.3" height="35.2" fill="#0000ff"/>
<rect x="1120.9" y="2885.7" width="33.3" height="35.2" fill="#0000ff"/>
<rect x="1292.2" y="2849.2" width="33.3" height="35.2" fill="#0000ff"/>
<rect x="1463.5" y="2809.2" width="33.3" height="35.2" fill="#0000ff"/>
<rect x="1634.8" y="2753.3" width="33.3" height="35.2" fill="#0000ff"/>
<rect x="1806.1" y="2616.2" width="33.3" height="35.2" fill="#0000ff"/>
<rect x="1977.3" y="2463.1" width="33.3" height="35.2" fill="#0000ff"/>
<ellipse cx="623.7" cy="3223.6" rx="18.5" ry="19.8" fill="url(#ball)"/>
<ellipse cx="795.0" cy="3116.9" rx="18.5" ry="19.8" fill="url(#ball)"/>
<ellipse cx="966.3" cy="2959.5" rx="18.5" ry="19.8" fill="url(#ball)"/>
<ellipse cx="1137.6" cy="2791.5" rx="18.5" ry="19.8" fill="url(#ball)"/>
<ellipse cx="1308.8" cy="2523.7" rx="18.5" ry="19.8" fill="url(#ball)"/>
<ellipse cx="1480.1" cy="2432.5" rx="18.5" ry="19.8" fill="url(#ball)"/>
<ellipse cx="1651.4" cy="2396.0" rx="18.5" ry="19.8" fill="url(#ball)"/>
<ellipse cx="1822.7" cy="2361.8" rx="18.5" ry="19.8" fill="url(#ball)"/>
<ellipse cx="1994.0" cy="2306.5" rx="18.5" ry="19.8" fill="url(#ball)"/>
</g>
<g stroke="#000" stroke-width="8.5" stroke-linecap="round">
<line x1="632.0" y1="2300.3" x2="732.0" y2="2300.3"/>
<line x1="782.0" y1="2300.3" x2="881.5" y2="2300.3"/>
<line x1="632.0" y1="2483.1" x2="732.0" y2="2483.1"/>
<line x1="782.0" y1="2483.1" x2="881.5" y2="2483.1"/>
</g>
<ellipse cx="757.2" cy="2300.6" rx="18.5" ry="19.8" fill="url(#ball)"/>
<rect x="740.6" y="2465.5" width="33.3" height="35.2" fill="#0000ff"/>
<rect x="606.5" y="2215.0" width="1405.5" height="1209.4" fill="none" stroke="#000" stroke-width="11.5" stroke-linejoin="round"/>
<g stroke="#000" stroke-width="11.5" stroke-linecap="round">
<line x1="606.5" y1="2214.7" x2="584.5" y2="2214.7"/>
<line x1="606.5" y1="2698.6" x2="584.5" y2="2698.6"/>
<line x1="606.5" y1="3182.5" x2="584.5" y2="3182.5"/>
<line x1="606.5" y1="2456.6" x2="596.0" y2="2456.6"/>
<line x1="606.5" y1="2940.5" x2="596.0" y2="2940.5"/>
<line x1="606.5" y1="3424.4" x2="596.0" y2="3424.4"/>
<line x1="2012.0" y1="2214.7" x2="2034.0" y2="2214.7"/>
<line x1="2012.0" y1="2617.9" x2="2034.0" y2="2617.9"/>
<line x1="2012.0" y1="3021.2" x2="2034.0" y2="3021.2"/>
<line x1="2012.0" y1="3424.4" x2="2034.0" y2="3424.4"/>
<line x1="2012.0" y1="2416.3" x2="2022.5" y2="2416.3"/>
<line x1="2012.0" y1="2819.6" x2="2022.5" y2="2819.6"/>
<line x1="2012.0" y1="3222.8" x2="2022.5" y2="3222.8"/>
<line x1="623.7" y1="3424.4" x2="623.7" y2="3447.9"/>
<line x1="966.3" y1="3424.4" x2="966.3" y2="3447.9"/>
<line x1="1308.8" y1="3424.4" x2="1308.8" y2="3447.9"/>
<line x1="1651.4" y1="3424.4" x2="1651.4" y2="3447.9"/>
<line x1="1994.0" y1="3424.4" x2="1994.0" y2="3447.9"/>
<line x1="795.0" y1="3424.4" x2="795.0" y2="3436.4"/>
<line x1="1137.6" y1="3424.4" x2="1137.6" y2="3436.4"/>
<line x1="1480.1" y1="3424.4" x2="1480.1" y2="3436.4"/>
<line x1="1822.7" y1="3424.4" x2="1822.7" y2="3436.4"/>
</g>
<text transform="translate(568.0,2234.9) scale(1.0000,1.1000)" font-size="64.0" text-anchor="end">1600</text>
<text transform="translate(568.0,2718.8) scale(1.0000,1.1000)" font-size="64.0" text-anchor="end">1400</text>
<text transform="translate(568.0,3202.7) scale(1.0000,1.1000)" font-size="64.0" text-anchor="end">1200</text>
<text transform="translate(2048.3,2235.1) scale(1.0000,1.1000)" font-size="64.0">4</text>
<text transform="translate(2048.3,2638.3) scale(1.0000,1.1000)" font-size="64.0">3</text>
<text transform="translate(2048.3,3041.6) scale(1.0000,1.1000)" font-size="64.0">2</text>
<text transform="translate(2048.3,3444.8) scale(1.0000,1.1000)" font-size="64.0">1</text>
<text transform="translate(623.7,3517.3) scale(1.0000,1.1000)" font-size="64.0" text-anchor="middle">100</text>
<text transform="translate(966.3,3517.3) scale(1.0000,1.1000)" font-size="64.0" text-anchor="middle">200</text>
<text transform="translate(1308.8,3517.3) scale(1.0000,1.1000)" font-size="64.0" text-anchor="middle">300</text>
<text transform="translate(1651.4,3517.3) scale(1.0000,1.1000)" font-size="64.0" text-anchor="middle">400</text>
<text transform="translate(1994.0,3517.3) scale(1.0000,1.1000)" font-size="64.0" text-anchor="middle">500</text>
<text transform="translate(382.4,3333.3) rotate(-90) scale(1.0600,1.0400)" font-size="97.0">Breakdown Voltage(V)</text>
<text transform="translate(1166.6,3641.2) scale(1.0000,1.1000)" font-size="97.0">L<tspan font-size="61.0" dy="32.5">p</tspan><tspan dy="-32.5">(nm)</tspan></text>
<text transform="translate(2195.9,3107.0) rotate(-90) scale(1.0600,1.0400)" font-size="97.0">R<tspan font-size="61.0" dy="30.7">on</tspan><tspan dy="-30.7">(m&#937;.cm</tspan><tspan font-size="61.0" dy="-45.0">2</tspan><tspan dy="45">)</tspan></text>
<text transform="translate(913.5,2343.0) scale(1.0000,1.1400)" font-size="110.0">V<tspan font-size="66.0" dy="36.5">br</tspan></text>
<text transform="translate(913.0,2524.7) scale(1.0000,1.1400)" font-size="110.0">R<tspan font-size="66.0" dy="36.5">on</tspan></text>
<text transform="translate(1373.0,3000.2) scale(1.0000,1.1000)" font-size="80.5">L<tspan font-size="50.5" dy="27.0">drift</tspan><tspan dy="-27">=12 </tspan><tspan font-size="103">&#956;</tspan>m</text>
<text transform="translate(1373.0,3156.5) scale(1.0000,1.1000)" font-size="80.5">n<tspan font-size="50.5" dy="27.0">drift</tspan><tspan dy="-27">=1&#215;10</tspan><tspan font-size="50.5" dy="-38.6">16</tspan><tspan dy="38.6"> cm</tspan><tspan font-size="50.5" dy="-38.6">-3</tspan></text>
<text transform="translate(1373.0,3312.7) scale(1.0000,1.1000)" font-size="80.5">n<tspan font-size="50.5" dy="27.0">p</tspan><tspan dy="-27">= 2&#215;10</tspan><tspan font-size="50.5" dy="-38.6">17</tspan><tspan dy="38.6"> cm</tspan><tspan font-size="50.5" dy="-38.6">-3</tspan></text>
<text class="lbl" x="47" y="2077.7" font-size="89" letter-spacing="-2">(b)</text>
</svg></body></html>
